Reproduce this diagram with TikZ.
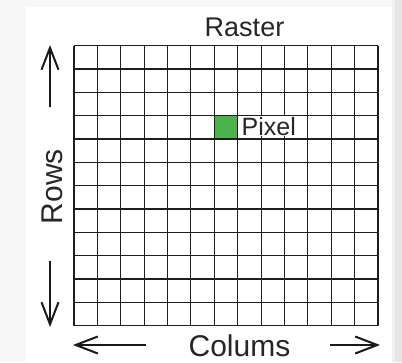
\documentclass[tikz,border=0pt]{standalone}
\usepackage{fontspec}
\setmainfont{Liberation Sans}
\usetikzlibrary{arrows.meta}
\definecolor{pixgreen}{RGB}{76,178,76}
\definecolor{gridline}{RGB}{30,30,30}
\begin{document}
\begin{tikzpicture}[x=1pt,y=-1pt,
  lbl/.style={inner sep=0pt, text=black!85},
  gridstyle/.style={draw=gridline, line width=1.1pt},
  axisarrow/.style={line width=2.2pt, draw=black!90, -{Straight Barb[length=22pt,width=17pt,line width=2pt]}}]
\useasboundingbox (0,0) rectangle (402,362);
\fill[black!3] (0,0) rectangle (402,362);
\fill[black!10] (392,0) rectangle (402,362);
\fill[black!6] (392,0) rectangle (395,362);
\fill[white] (26,7) rectangle (392,362);
% green pixel
\fill[pixgreen] (74+6*23.385,45.7+3*23.333) rectangle (74+7*23.385,45.7+4*23.333);
% grid
\foreach \i in {0,...,13} \draw[gridstyle] (74+\i*23.385,45.7) -- (74+\i*23.385,325.7);
\foreach \j in {0,...,12} \draw[gridstyle] (74,45.7+\j*23.333) -- (378,45.7+\j*23.333);
% labels
\node[lbl, font=\fontsize{25}{28}\selectfont, anchor=base west, fill=white, inner sep=1pt] (pixel) at (240.5,135) {Pixel};
\node[lbl, font=\fontsize{27}{30}\selectfont, anchor=base] (raster) at (244.5,36.7) {Raster};
\node[lbl, font=\fontsize{30}{33}\selectfont, anchor=base] (colums) at (239.5,356.5) {Colums};
\node[lbl, font=\fontsize{30}{33}\selectfont, anchor=base, rotate=90] (rows) at (62,186.5) {Rows};
% arrows
\coordinate (upS) at (50,107);
\coordinate (upE) at (50,45);
\coordinate (dnS) at (50,261);
\coordinate (dnE) at (50,327);
\coordinate (lfS) at (146,345);
\coordinate (lfE) at (73,345);
\coordinate (rtS) at (330,345);
\coordinate (rtE) at (380,345);
\draw[axisarrow] (upS) -- (upE);
\draw[axisarrow] (dnS) -- (dnE);
\draw[axisarrow] (lfS) -- (lfE);
\draw[axisarrow] (rtS) -- (rtE);
\end{tikzpicture}
\end{document}
